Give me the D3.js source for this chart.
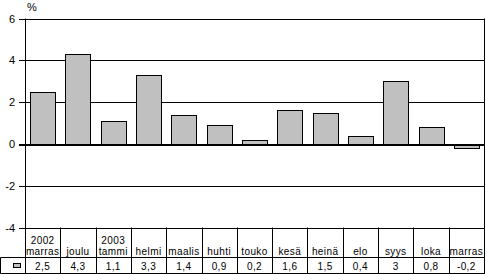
<!DOCTYPE html>
<html>
<head>
<meta charset="utf-8">
<script src="https://cdn.jsdelivr.net/npm/d3@7"></script>
<style>
  body { margin: 0; background: #fff; }
  svg { display: block; font-family: "Liberation Sans", Arial, sans-serif; font-size: 11px; }
  .tbl { font-size: 10px; letter-spacing: 0.4px; }
</style>
</head>
<body>
<script>
const months = ['marras', 'joulu', 'tammi', 'helmi', 'maalis', 'huhti', 'touko', 'kesä', 'heinä', 'elo', 'syys', 'loka', 'marras']
const years = ['2002', '', '2003', '', '', '', '', '', '', '', '', '', '']
const values = [2.5, 4.3, 1.1, 3.3, 1.4, 0.9, 0.2, 1.6, 1.5, 0.4, 3, 0.8, -0.2]
const yTicks = [-4, -2, 0, 2, 4, 6]

const width = 486
const height = 274
const left = 25
const right = 484
const pad = 0.29

const fmt = v => String(v).replace('.', ',')

const svg = d3.select('body').append('svg')
    .attr('width', width)
    .attr('height', height)

const idx = d3.range(values.length)

const col = d3.scaleBand()
    .domain(idx)
    .range([left, right])

const x = d3.scaleBand()
    .domain(idx)
    .range([left, right])
    .paddingInner(pad)
    .paddingOuter(pad / 2)

const y = d3.scaleLinear()
    .domain([-4, 6])
    .range([227.5, 18.5])

// gridlines
svg.append('g')
    .selectAll('line')
    .data(yTicks.filter(d => d !== 0))
    .join('line')
    .attr('x1', left - 6)
    .attr('x2', right)
    .attr('y1', d => Math.round(y(d)) + 0.5)
    .attr('y2', d => Math.round(y(d)) + 0.5)
    .attr('stroke', '#000')

svg.append('g')
    .selectAll('text')
    .data(yTicks)
    .join('text')
    .attr('x', 15)
    .attr('y', d => Math.round(y(d)) + 4)
    .attr('text-anchor', 'end')
    .text(d => d)

svg.append('text')
    .attr('x', 27)
    .attr('y', 11)
    .text('%')

// axes
svg.append('line')
    .attr('x1', left + 0.5).attr('x2', left + 0.5)
    .attr('y1', y(6)).attr('y2', height)
    .attr('stroke', '#000')
svg.append('line')
    .attr('x1', right + 0.5).attr('x2', right + 0.5)
    .attr('y1', y(6)).attr('y2', height)
    .attr('stroke', '#000')

// bars
svg.append('g')
    .selectAll('rect')
    .data(values)
    .join('rect')
    .attr('x', (d, i) => Math.round(x(i)) + 0.5)
    .attr('width', Math.round(x.bandwidth()))
    .attr('y', d => Math.round(y(Math.max(0, d))) + 0.5)
    .attr('height', d => Math.max(1, Math.round(y(Math.min(0, d))) - Math.round(y(Math.max(0, d)))))
    .attr('fill', '#c0c0c0')
    .attr('stroke', '#000')

svg.append('line')
    .attr('x1', left - 6)
    .attr('x2', right)
    .attr('y1', Math.round(y(0)) + 1)
    .attr('y2', Math.round(y(0)) + 1)
    .attr('stroke', '#000')
    .attr('stroke-width', 2)

// data table
const rowTop = 257.5
const rowBottom = 273.5

svg.append('g')
    .selectAll('line')
    .data(idx.slice(1))
    .join('line')
    .attr('x1', i => Math.round(col(i)) + 0.5)
    .attr('x2', i => Math.round(col(i)) + 0.5)
    .attr('y1', y(-4))
    .attr('y2', rowBottom)
    .attr('stroke', '#000')

svg.append('g')
    .selectAll('line')
    .data([rowTop, rowBottom])
    .join('line')
    .attr('x1', 0.5)
    .attr('x2', right)
    .attr('y1', d => d)
    .attr('y2', d => d)
    .attr('stroke', '#000')

svg.append('line')
    .attr('x1', 0.5).attr('x2', 0.5)
    .attr('y1', rowTop).attr('y2', rowBottom)
    .attr('stroke', '#000')

svg.append('rect')
    .attr('x', 13.5).attr('y', 263.5)
    .attr('width', 7).attr('height', 4)
    .attr('fill', '#c0c0c0')
    .attr('stroke', '#000')

const cx = i => col(i) + col.bandwidth() / 2

const tbl = svg.append('g').attr('class', 'tbl')

tbl.append('g')
    .selectAll('text')
    .data(years)
    .join('text')
    .attr('x', (d, i) => cx(i))
    .attr('y', 244)
    .attr('text-anchor', 'middle')
    .text(d => d)

tbl.append('g')
    .selectAll('text')
    .data(months)
    .join('text')
    .attr('x', (d, i) => cx(i))
    .attr('y', 255)
    .attr('text-anchor', 'middle')
    .text(d => d)

tbl.append('g')
    .selectAll('text')
    .data(values)
    .join('text')
    .attr('x', (d, i) => cx(i))
    .attr('y', 270)
    .attr('text-anchor', 'middle')
    .text(d => fmt(d))
</script>
</body>
</html>
